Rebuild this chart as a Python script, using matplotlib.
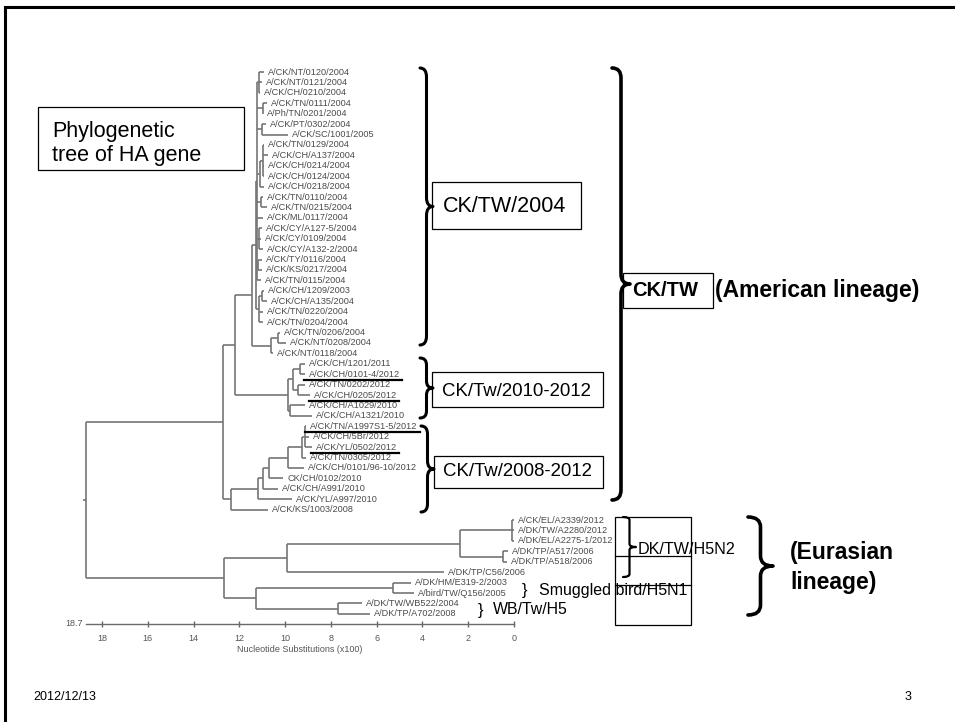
import matplotlib
matplotlib.use("Agg")
import matplotlib.pyplot as plt
from matplotlib.path import Path
from matplotlib.patches import PathPatch, Rectangle
import numpy as np

plt.rcParams['font.family'] = ['Liberation Sans', 'DejaVu Sans']

# ---------------- data ----------------
leaf_names = [
    "A/CK/NT/0120/2004", "A/CK/NT/0121/2004", "A/CK/CH/0210/2004", "A/CK/TN/0111/2004",
    "A/Ph/TN/0201/2004", "A/CK/PT/0302/2004", "A/CK/SC/1001/2005", "A/CK/TN/0129/2004",
    "A/CK/CH/A137/2004", "A/CK/CH/0214/2004", "A/CK/CH/0124/2004", "A/CK/CH/0218/2004",
    "A/CK/TN/0110/2004", "A/CK/TN/0215/2004", "A/CK/ML/0117/2004", "A/CK/CY/A127-5/2004",
    "A/CK/CY/0109/2004", "A/CK/CY/A132-2/2004", "A/CK/TY/0116/2004", "A/CK/KS/0217/2004",
    "A/CK/TN/0115/2004", "A/CK/CH/1209/2003", "A/CK/CH/A135/2004", "A/CK/TN/0220/2004",
    "A/CK/TN/0204/2004", "A/CK/TN/0206/2004", "A/CK/NT/0208/2004", "A/CK/NT/0118/2004",
    "A/CK/CH/1201/2011", "A/CK/CH/0101-4/2012", "A/CK/TN/0202/2012", "A/CK/CH/0205/2012",
    "A/CK/CH/A1029/2010", "A/CK/CH/A1321/2010", "A/CK/TN/A1997S1-5/2012", "A/CK/CH/5Br/2012",
    "A/CK/YL/0502/2012", "A/CK/TN/0305/2012", "A/CK/CH/0101/96-10/2012", "CK/CH/0102/2010",
    "A/CK/CH/A991/2010", "A/CK/YL/A997/2010", "A/CK/KS/1003/2008",
    "A/CK/EL/A2339/2012", "A/DK/TW/A2280/2012", "A/DK/EL/A2275-1/2012", "A/DK/TP/A517/2006",
    "A/DK/TP/A518/2006", "A/DK/TP/C56/2006", "A/DK/HM/E319-2/2003", "A/bird/TW/Q156/2005",
    "A/DK/TW/WB522/2004", "A/DK/TP/A702/2008",
]
# tip positions on the substitution scale (x100)
leaf_heights = [
    10.92, 11.00, 11.09, 10.79, 10.96, 10.83, 9.87, 10.92, 10.74, 10.92, 10.92, 10.92,
    10.96, 10.79, 10.96, 11.00, 11.05, 10.96, 11.00, 11.00, 11.05, 10.92, 10.79, 10.96,
    10.96, 10.22, 9.96, 10.52, 9.13, 9.13, 9.13, 8.91, 9.13, 8.82, 9.08, 8.95, 8.82,
    9.08, 9.17, 10.09, 10.31, 9.69, 10.74,
    0.00, 0.00, 0.00, 0.26, 0.31, 3.06, 4.50, 4.37, 6.64, 6.29,
]
underlined = ["A/CK/CH/0101-4/2012", "A/CK/CH/0205/2012",
              "A/CK/TN/A1997S1-5/2012", "A/CK/YL/0502/2012"]

# topology: (node height, [children]); ints are leaf indices
tree = (18.7, [
    (12.71, [
        (12.18, [
            (11.44, [
                (11.27, [
                    (11.22, [
                        (11.14, [0, 1, 2]),
                        (10.98, [3, 4]),
                        (11.00, [5, 6]),
                        (11.09, [(10.96, [7, 8, 9, 10]), 11]),
                        (11.05, [12, 13]),
                        14,
                        (11.14, [15, 16, 17]),
                        (11.18, [18, 19]),
                        20]),
                    (11.14, [(11.00, [21, 22]), 23, 24])]),
                (10.61, [(10.31, [25, 26]), 27])]),
            (9.87, [
                (9.65, [(9.34, [28, 29]), (9.43, [30, 31])]),
                (9.78, [32, 33])])]),
        (12.36, [
            (11.18, [
                (10.96, [
                    (10.70, [
                        (9.87, [
                            (9.26, [(9.13, [34, 35, 36]), 37]),
                            38]),
                        39]),
                    40]),
                41]),
            42])]),
    (12.66, [
        (9.91, [
            (2.36, [(0.09, [43, 44, 45]), (0.48, [46, 47])]),
            48]),
        (11.27, [
            (5.28, [49, 50]),
            (7.69, [51, 52])])]),
])

scale_ticks = [18, 16, 14, 12, 10, 8, 6, 4, 2, 0]
root_value = 18.7

# ---------------- figure ----------------
W, H = 955, 722
fig = plt.figure(figsize=(W / 100, H / 100), dpi=100)
fig.patch.set_facecolor('white')

# tree axes: x = substitution scale, y = leaf order
ax = fig.add_axes([86 / W, 98 / H, 428 / W, 564 / H])
ax.set_facecolor('none')
ax.set_xlim(root_value, 0)
ax.set_ylim(52.975, -1.152)
for s in ['left', 'top', 'right']:
    ax.spines[s].set_visible(False)
ax.spines['bottom'].set_color('#6a6a6a')
ax.spines['bottom'].set_linewidth(1.0)
ax.set_yticks([])
ax.set_xticks(scale_ticks)
ax.set_xticklabels([str(t) for t in scale_ticks])
ax.tick_params(axis='x', direction='inout', length=4, width=1, colors='#6a6a6a',
               labelsize=6.5, labelcolor='#555555', pad=5)
ax.set_xlabel("Nucleotide Substitutions (x100)", fontsize=6.5, color='#555555', labelpad=1.5)
ax.annotate(str(root_value), xy=(root_value, 0), xycoords=('data', 'axes fraction'),
            xytext=(-2, 0), textcoords='offset points', ha='right', va='center',
            fontsize=6.5, color='#555555', annotation_clip=False)

line_kw = dict(color='#767676', lw=1.2, solid_capstyle='butt', clip_on=False)
label_texts = {}


def draw(node):
    if isinstance(node, int):
        return node, leaf_heights[node]
    h, children = node
    ys = []
    for ch in children:
        cy, ch_h = draw(ch)
        ax.plot([h, ch_h], [cy, cy], **line_kw)
        ys.append(cy)
    ax.plot([h, h], [ys[0], ys[-1]], **line_kw)
    return (ys[0] + ys[-1]) / 2, h


root_y, _ = draw(tree)
ax.plot([root_value, root_value + 0.15], [root_y, root_y], **line_kw)

for i, (name, h) in enumerate(zip(leaf_names, leaf_heights)):
    t = ax.annotate(name, xy=(h, i), xytext=(3, 0), textcoords='offset points',
                    ha='left', va='center', fontsize=6.6, color='#4a4a4a',
                    annotation_clip=False)
    label_texts[name] = (t, i)

# ---------------- overlay (slide annotations, pixel coords) ----------------
ov = fig.add_axes([0, 0, 1, 1], zorder=5)
ov.set_xlim(0, W)
ov.set_ylim(H, 0)
ov.axis('off')
ov.patch.set_alpha(0)

# slide border
ov.plot([5, 5], [H + 5, 7], color='black', lw=2.2, solid_capstyle='projecting')
ov.plot([5, W + 5], [7, 7], color='black', lw=2.2, solid_capstyle='projecting')


def brace(x, y0, y1, w, r, lw=2.0):
    ym = (y0 + y1) / 2
    xs = x + w / 2
    xt = x + w
    verts = [(x, y0), (xs, y0), (xs, y0 + r), (xs, ym - r), (xs, ym), (xt, ym),
             (xs, ym), (xs, ym + r), (xs, y1 - r), (xs, y1), (x, y1)]
    codes = [Path.MOVETO, Path.CURVE3, Path.CURVE3, Path.LINETO, Path.CURVE3, Path.CURVE3,
             Path.CURVE3, Path.CURVE3, Path.LINETO, Path.CURVE3, Path.CURVE3]
    ov.add_patch(PathPatch(Path(verts, codes), fill=False, lw=lw, edgecolor='black',
                           capstyle='round', joinstyle='round'))


def box(x, y, w, h, lw=0.9):
    ov.add_patch(Rectangle((x, y), w, h, fill=False, lw=lw, edgecolor='black'))


# title box
box(38, 107, 206, 63)
ov.text(52, 131, "Phylogenetic", fontsize=15.5, ha='left', va='center')
ov.text(52, 155, "tree of HA gene", fontsize=15.5, ha='left', va='center')

# clade braces and boxes
brace(420, 68, 345, 13, 9, lw=2.2)
box(432, 182, 149, 47)
ov.text(443, 207, "CK/TW/2004", fontsize=15.5, ha='left', va='center')

brace(420, 358, 418, 13, 7, lw=2.2)
box(432, 372, 171, 35)
ov.text(442, 391, "CK/Tw/2010-2012", fontsize=13.4, ha='left', va='center')

brace(421, 426, 512, 13, 8, lw=2.2)
box(434, 456, 169, 32)
ov.text(443, 472, "CK/Tw/2008-2012", fontsize=13.4, ha='left', va='center')

brace(612, 68, 500, 18, 10, lw=2.6)
box(623, 273, 90, 35)
ov.text(632, 291, "CK/TW", fontsize=14.5, fontweight='bold', ha='left', va='center')
ov.text(715, 290, "(American lineage)", fontsize=16.5, fontweight='bold', ha='left', va='center')

# Eurasian part
brace(748, 517, 615, 25, 10, lw=2.6)
ov.text(790, 553, "(Eurasian", fontsize=16.5, fontweight='bold', ha='left', va='center')
ov.text(790, 582, "lineage)", fontsize=16.5, fontweight='bold', ha='left', va='center')

box(615, 517, 76, 108)
ov.plot([615, 691], [556, 556], color='black', lw=0.9)
ov.plot([615, 691], [585, 585], color='black', lw=0.9)
brace(623, 517, 577, 13, 3, lw=1.6)
ov.text(638, 549, "DK/TW/H5N2", fontsize=11.6, ha='left', va='center')

ov.text(522, 591, "}", fontsize=12, ha='left', va='center')
ov.text(539, 591, "Smuggled bird/H5N1", fontsize=11.5, ha='left', va='center')
ov.text(478, 610, "}", fontsize=12, ha='left', va='center')
ov.text(493, 610, "WB/Tw/H5", fontsize=11.4, ha='left', va='center')

# footer
ov.text(33, 697, "2012/12/13", fontsize=9, ha='left', va='center',
        family=['Liberation Sans Narrow', 'Liberation Sans', 'DejaVu Sans'])
ov.text(905, 697, "3", fontsize=9, ha='left', va='center')

# underline selected strains (measured from rendered text)
fig.canvas.draw()
inv = ov.transData.inverted()
for name in underlined:
    t, i = label_texts[name]
    bb = t.get_window_extent()
    (x0, yb), (x1, _) = inv.transform([(bb.x0, bb.y0), (bb.x1, bb.y1)])
    ov.plot([x0 - 5, x1 + 2], [yb + 1, yb + 1], color='black', lw=1.6)

fig.savefig("out.png", dpi=100, facecolor='white')
